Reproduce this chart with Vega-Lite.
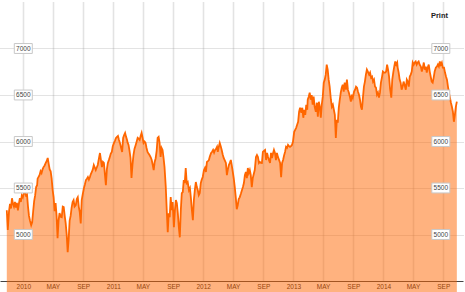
{
  "$schema": "https://vega.github.io/schema/vega-lite/v6.json",
  "width": 463,
  "height": 279,
  "autosize": {"type": "none"},
  "padding": {"top": 2, "left": 0, "right": 2, "bottom": 11},
  "background": "white",
  "title": {"text": "Print", "anchor": "end", "offset": -17, "dx": -15, "fontSize": 7.5, "fontWeight": "bold", "color": "#222", "font": "Liberation Sans"},
  "config": {
    "view": {"stroke": null},
    "font": "Liberation Sans",
    "axis": {"title": null}
  },
  "datasets": {
    "ftse": [
      {"d":"2009-10-26","v":5260},{"d":"2009-10-30","v":5050},
      {"d":"2009-11-04","v":5250},{"d":"2009-11-08","v":5330},{"d":"2009-11-12","v":5280},{"d":"2009-11-16","v":5390},{"d":"2009-11-20","v":5330},{"d":"2009-11-24","v":5300},{"d":"2009-11-28","v":5350},
      {"d":"2009-12-02","v":5290},{"d":"2009-12-06","v":5340},{"d":"2009-12-10","v":5260},{"d":"2009-12-14","v":5330},{"d":"2009-12-18","v":5390},{"d":"2009-12-22","v":5350},{"d":"2009-12-26","v":5420},{"d":"2009-12-30","v":5400},
      {"d":"2010-01-04","v":5450},{"d":"2010-01-08","v":5460},{"d":"2010-01-12","v":5420},{"d":"2010-01-16","v":5430},{"d":"2010-01-20","v":5300},{"d":"2010-01-24","v":5200},{"d":"2010-01-28","v":5150},
      {"d":"2010-02-02","v":5100},{"d":"2010-02-06","v":5130},{"d":"2010-02-10","v":5250},{"d":"2010-02-14","v":5360},{"d":"2010-02-18","v":5420},{"d":"2010-02-22","v":5510},{"d":"2010-02-26","v":5530},{"d":"2010-02-28","v":5600},
      {"d":"2010-03-04","v":5620},{"d":"2010-03-08","v":5640},{"d":"2010-03-12","v":5680},{"d":"2010-03-16","v":5660},{"d":"2010-03-20","v":5700},{"d":"2010-03-24","v":5725},{"d":"2010-03-28","v":5740},
      {"d":"2010-04-02","v":5770},{"d":"2010-04-06","v":5790},{"d":"2010-04-10","v":5823},{"d":"2010-04-14","v":5760},{"d":"2010-04-18","v":5700},{"d":"2010-04-22","v":5680},{"d":"2010-04-26","v":5600},{"d":"2010-04-30","v":5480},
      {"d":"2010-05-04","v":5400},{"d":"2010-05-08","v":5250},{"d":"2010-05-12","v":5337},{"d":"2010-05-16","v":5200},{"d":"2010-05-20","v":4960},{"d":"2010-05-24","v":5150},{"d":"2010-05-28","v":5230},
      {"d":"2010-06-02","v":5190},{"d":"2010-06-06","v":5186},{"d":"2010-06-10","v":5300},{"d":"2010-06-14","v":5294},{"d":"2010-06-18","v":5200},{"d":"2010-06-22","v":5120},{"d":"2010-06-26","v":5000},{"d":"2010-06-30","v":4810},
      {"d":"2010-07-04","v":4950},{"d":"2010-07-08","v":5150},{"d":"2010-07-12","v":5200},{"d":"2010-07-16","v":5290},{"d":"2010-07-20","v":5350},{"d":"2010-07-24","v":5370},{"d":"2010-07-28","v":5300},
      {"d":"2010-08-02","v":5315},{"d":"2010-08-06","v":5380},{"d":"2010-08-10","v":5400},{"d":"2010-08-14","v":5300},{"d":"2010-08-18","v":5240},{"d":"2010-08-22","v":5120},{"d":"2010-08-26","v":5370},{"d":"2010-08-30","v":5430},
      {"d":"2010-09-04","v":5500},{"d":"2010-09-08","v":5540},{"d":"2010-09-12","v":5585},{"d":"2010-09-16","v":5600},{"d":"2010-09-20","v":5617},{"d":"2010-09-24","v":5590},{"d":"2010-09-28","v":5617},
      {"d":"2010-10-02","v":5650},{"d":"2010-10-06","v":5672},{"d":"2010-10-10","v":5700},{"d":"2010-10-14","v":5747},{"d":"2010-10-18","v":5720},{"d":"2010-10-22","v":5693},{"d":"2010-10-26","v":5720},{"d":"2010-10-30","v":5747},
      {"d":"2010-11-04","v":5820},{"d":"2010-11-08","v":5876},{"d":"2010-11-12","v":5800},{"d":"2010-11-16","v":5725},{"d":"2010-11-20","v":5780},{"d":"2010-11-24","v":5769},{"d":"2010-11-28","v":5650},
      {"d":"2010-12-02","v":5531},{"d":"2010-12-06","v":5700},{"d":"2010-12-10","v":5769},{"d":"2010-12-14","v":5800},{"d":"2010-12-18","v":5834},{"d":"2010-12-22","v":5870},{"d":"2010-12-26","v":5888},{"d":"2010-12-30","v":5950},
      {"d":"2011-01-04","v":5985},{"d":"2011-01-08","v":6010},{"d":"2011-01-12","v":6039},{"d":"2011-01-16","v":6050},{"d":"2011-01-20","v":6060},{"d":"2011-01-24","v":6020},{"d":"2011-01-28","v":5985},
      {"d":"2011-02-02","v":5930},{"d":"2011-02-06","v":5888},{"d":"2011-02-10","v":6039},{"d":"2011-02-14","v":6070},{"d":"2011-02-18","v":6093},{"d":"2011-02-22","v":6050},{"d":"2011-02-26","v":6017},{"d":"2011-02-28","v":5990},
      {"d":"2011-03-04","v":5963},{"d":"2011-03-08","v":5900},{"d":"2011-03-12","v":5823},{"d":"2011-03-16","v":5607},{"d":"2011-03-20","v":5750},{"d":"2011-03-24","v":5855},{"d":"2011-03-28","v":5920},
      {"d":"2011-04-02","v":5963},{"d":"2011-04-06","v":6000},{"d":"2011-04-10","v":6039},{"d":"2011-04-14","v":6030},{"d":"2011-04-18","v":6017},{"d":"2011-04-22","v":6060},{"d":"2011-04-26","v":6093},{"d":"2011-04-30","v":6040},
      {"d":"2011-05-04","v":5985},{"d":"2011-05-08","v":6000},{"d":"2011-05-12","v":5985},{"d":"2011-05-16","v":5930},{"d":"2011-05-20","v":5888},{"d":"2011-05-24","v":5870},{"d":"2011-05-28","v":5855},
      {"d":"2011-06-02","v":5830},{"d":"2011-06-06","v":5801},{"d":"2011-06-10","v":5750},{"d":"2011-06-14","v":5693},{"d":"2011-06-18","v":5780},{"d":"2011-06-22","v":5820},{"d":"2011-06-26","v":5900},{"d":"2011-06-30","v":6039},
      {"d":"2011-07-04","v":6050},{"d":"2011-07-08","v":5985},{"d":"2011-07-12","v":5834},{"d":"2011-07-16","v":5931},{"d":"2011-07-20","v":5909},{"d":"2011-07-24","v":5823},{"d":"2011-07-28","v":5725},
      {"d":"2011-08-02","v":5510},{"d":"2011-08-06","v":5261},{"d":"2011-08-10","v":5024},{"d":"2011-08-14","v":5229},{"d":"2011-08-18","v":5186},{"d":"2011-08-22","v":5402},{"d":"2011-08-26","v":5261},{"d":"2011-08-30","v":5348},
      {"d":"2011-09-04","v":5078},{"d":"2011-09-08","v":5261},{"d":"2011-09-12","v":5370},{"d":"2011-09-16","v":5337},{"d":"2011-09-20","v":5229},{"d":"2011-09-24","v":5078},{"d":"2011-09-28","v":4970},
      {"d":"2011-10-02","v":5261},{"d":"2011-10-06","v":5445},{"d":"2011-10-10","v":5456},{"d":"2011-10-14","v":5585},{"d":"2011-10-18","v":5553},{"d":"2011-10-22","v":5715},{"d":"2011-10-26","v":5553},{"d":"2011-10-30","v":5564},
      {"d":"2011-11-04","v":5477},{"d":"2011-11-08","v":5499},{"d":"2011-11-12","v":5391},{"d":"2011-11-16","v":5261},{"d":"2011-11-20","v":5153},{"d":"2011-11-24","v":5370},{"d":"2011-11-28","v":5480},
      {"d":"2011-12-02","v":5564},{"d":"2011-12-06","v":5510},{"d":"2011-12-10","v":5477},{"d":"2011-12-14","v":5423},{"d":"2011-12-18","v":5445},{"d":"2011-12-22","v":5553},{"d":"2011-12-26","v":5590},{"d":"2011-12-30","v":5618},
      {"d":"2012-01-04","v":5693},{"d":"2012-01-08","v":5715},{"d":"2012-01-12","v":5672},{"d":"2012-01-16","v":5780},{"d":"2012-01-20","v":5790},{"d":"2012-01-24","v":5801},{"d":"2012-01-28","v":5840},
      {"d":"2012-02-02","v":5877},{"d":"2012-02-06","v":5890},{"d":"2012-02-10","v":5909},{"d":"2012-02-14","v":5880},{"d":"2012-02-18","v":5909},{"d":"2012-02-22","v":5920},{"d":"2012-02-26","v":5942},{"d":"2012-02-29","v":5888},
      {"d":"2012-03-04","v":5940},{"d":"2012-03-08","v":5985},{"d":"2012-03-12","v":5950},{"d":"2012-03-16","v":5909},{"d":"2012-03-20","v":5860},{"d":"2012-03-24","v":5823},{"d":"2012-03-28","v":5800},
      {"d":"2012-04-02","v":5769},{"d":"2012-04-06","v":5639},{"d":"2012-04-10","v":5700},{"d":"2012-04-14","v":5747},{"d":"2012-04-18","v":5770},{"d":"2012-04-22","v":5801},{"d":"2012-04-26","v":5740},{"d":"2012-04-30","v":5672},
      {"d":"2012-05-04","v":5600},{"d":"2012-05-08","v":5510},{"d":"2012-05-12","v":5402},{"d":"2012-05-16","v":5272},{"d":"2012-05-20","v":5315},{"d":"2012-05-24","v":5380},{"d":"2012-05-28","v":5400},
      {"d":"2012-06-02","v":5440},{"d":"2012-06-06","v":5477},{"d":"2012-06-10","v":5510},{"d":"2012-06-14","v":5553},{"d":"2012-06-18","v":5639},{"d":"2012-06-22","v":5672},{"d":"2012-06-26","v":5607},{"d":"2012-06-30","v":5715},
      {"d":"2012-07-04","v":5661},{"d":"2012-07-08","v":5693},{"d":"2012-07-12","v":5639},{"d":"2012-07-16","v":5510},{"d":"2012-07-20","v":5607},{"d":"2012-07-24","v":5650},{"d":"2012-07-28","v":5693},
      {"d":"2012-08-02","v":5834},{"d":"2012-08-06","v":5855},{"d":"2012-08-10","v":5834},{"d":"2012-08-14","v":5769},{"d":"2012-08-18","v":5780},{"d":"2012-08-22","v":5770},{"d":"2012-08-26","v":5769},{"d":"2012-08-30","v":5888},
      {"d":"2012-09-04","v":5900},{"d":"2012-09-08","v":5909},{"d":"2012-09-12","v":5801},{"d":"2012-09-16","v":5877},{"d":"2012-09-20","v":5834},{"d":"2012-09-24","v":5800},{"d":"2012-09-28","v":5769},
      {"d":"2012-10-02","v":5877},{"d":"2012-10-06","v":5823},{"d":"2012-10-10","v":5870},{"d":"2012-10-14","v":5909},{"d":"2012-10-18","v":5877},{"d":"2012-10-22","v":5801},{"d":"2012-10-26","v":5877},{"d":"2012-10-30","v":5834},
      {"d":"2012-11-04","v":5800},{"d":"2012-11-08","v":5769},{"d":"2012-11-12","v":5617},{"d":"2012-11-16","v":5769},{"d":"2012-11-20","v":5801},{"d":"2012-11-24","v":5850},{"d":"2012-11-28","v":5888},
      {"d":"2012-12-02","v":5942},{"d":"2012-12-06","v":5931},{"d":"2012-12-10","v":5963},{"d":"2012-12-14","v":5950},{"d":"2012-12-18","v":5942},{"d":"2012-12-22","v":5950},{"d":"2012-12-26","v":5963},{"d":"2012-12-30","v":5996},
      {"d":"2013-01-04","v":6104},{"d":"2013-01-08","v":6125},{"d":"2013-01-12","v":6147},{"d":"2013-01-16","v":6180},{"d":"2013-01-20","v":6212},{"d":"2013-01-24","v":6320},{"d":"2013-01-28","v":6363},
      {"d":"2013-02-02","v":6309},{"d":"2013-02-06","v":6363},{"d":"2013-02-10","v":6255},{"d":"2013-02-14","v":6341},{"d":"2013-02-18","v":6287},{"d":"2013-02-22","v":6395},{"d":"2013-02-26","v":6341},{"d":"2013-02-28","v":6449},
      {"d":"2013-03-04","v":6482},{"d":"2013-03-08","v":6525},{"d":"2013-03-12","v":6449},{"d":"2013-03-16","v":6500},{"d":"2013-03-20","v":6395},{"d":"2013-03-24","v":6482},{"d":"2013-03-28","v":6374},
      {"d":"2013-04-02","v":6320},{"d":"2013-04-06","v":6417},{"d":"2013-04-10","v":6266},{"d":"2013-04-14","v":6428},{"d":"2013-04-18","v":6374},{"d":"2013-04-22","v":6255},{"d":"2013-04-26","v":6395},{"d":"2013-04-30","v":6482},
      {"d":"2013-05-04","v":6633},{"d":"2013-05-08","v":6665},{"d":"2013-05-12","v":6719},{"d":"2013-05-16","v":6827},{"d":"2013-05-20","v":6773},{"d":"2013-05-24","v":6665},{"d":"2013-05-28","v":6590},
      {"d":"2013-06-02","v":6449},{"d":"2013-06-06","v":6374},{"d":"2013-06-10","v":6395},{"d":"2013-06-14","v":6341},{"d":"2013-06-18","v":6287},{"d":"2013-06-22","v":6039},{"d":"2013-06-26","v":6233},{"d":"2013-06-30","v":6201},
      {"d":"2013-07-04","v":6363},{"d":"2013-07-08","v":6449},{"d":"2013-07-12","v":6525},{"d":"2013-07-16","v":6579},{"d":"2013-07-20","v":6611},{"d":"2013-07-24","v":6536},{"d":"2013-07-28","v":6633},
      {"d":"2013-08-02","v":6557},{"d":"2013-08-06","v":6665},{"d":"2013-08-10","v":6557},{"d":"2013-08-14","v":6525},{"d":"2013-08-18","v":6482},{"d":"2013-08-22","v":6428},{"d":"2013-08-26","v":6503},{"d":"2013-08-30","v":6471},
      {"d":"2013-09-04","v":6536},{"d":"2013-09-08","v":6557},{"d":"2013-09-12","v":6590},{"d":"2013-09-16","v":6579},{"d":"2013-09-20","v":6536},{"d":"2013-09-24","v":6503},{"d":"2013-09-28","v":6449},
      {"d":"2013-10-02","v":6374},{"d":"2013-10-06","v":6341},{"d":"2013-10-10","v":6471},{"d":"2013-10-14","v":6590},{"d":"2013-10-18","v":6644},{"d":"2013-10-22","v":6719},{"d":"2013-10-26","v":6773},{"d":"2013-10-30","v":6752},
      {"d":"2013-11-04","v":6719},{"d":"2013-11-08","v":6741},{"d":"2013-11-12","v":6687},{"d":"2013-11-16","v":6698},{"d":"2013-11-20","v":6644},{"d":"2013-11-24","v":6665},{"d":"2013-11-28","v":6590},
      {"d":"2013-12-02","v":6579},{"d":"2013-12-06","v":6503},{"d":"2013-12-10","v":6525},{"d":"2013-12-14","v":6471},{"d":"2013-12-18","v":6525},{"d":"2013-12-22","v":6633},{"d":"2013-12-26","v":6687},{"d":"2013-12-30","v":6752},
      {"d":"2014-01-04","v":6741},{"d":"2014-01-08","v":6741},{"d":"2014-01-12","v":6752},{"d":"2014-01-16","v":6827},{"d":"2014-01-20","v":6773},{"d":"2014-01-24","v":6698},{"d":"2014-01-28","v":6570},
      {"d":"2014-02-02","v":6471},{"d":"2014-02-06","v":6665},{"d":"2014-02-10","v":6741},{"d":"2014-02-14","v":6806},{"d":"2014-02-18","v":6860},{"d":"2014-02-22","v":6827},{"d":"2014-02-26","v":6849},{"d":"2014-02-28","v":6795},
      {"d":"2014-03-04","v":6741},{"d":"2014-03-08","v":6665},{"d":"2014-03-12","v":6633},{"d":"2014-03-16","v":6557},{"d":"2014-03-20","v":6590},{"d":"2014-03-24","v":6644},{"d":"2014-03-28","v":6611},
      {"d":"2014-04-02","v":6557},{"d":"2014-04-06","v":6665},{"d":"2014-04-10","v":6644},{"d":"2014-04-14","v":6590},{"d":"2014-04-18","v":6698},{"d":"2014-04-22","v":6719},{"d":"2014-04-26","v":6752},{"d":"2014-04-30","v":6849},
      {"d":"2014-05-04","v":6827},{"d":"2014-05-08","v":6849},{"d":"2014-05-12","v":6860},{"d":"2014-05-16","v":6827},{"d":"2014-05-20","v":6849},{"d":"2014-05-24","v":6860},{"d":"2014-05-28","v":6827},
      {"d":"2014-06-02","v":6806},{"d":"2014-06-06","v":6752},{"d":"2014-06-10","v":6795},{"d":"2014-06-14","v":6849},{"d":"2014-06-18","v":6773},{"d":"2014-06-22","v":6806},{"d":"2014-06-26","v":6741},{"d":"2014-06-30","v":6795},
      {"d":"2014-07-04","v":6827},{"d":"2014-07-08","v":6752},{"d":"2014-07-12","v":6698},{"d":"2014-07-16","v":6644},{"d":"2014-07-20","v":6633},{"d":"2014-07-24","v":6687},{"d":"2014-07-28","v":6752},
      {"d":"2014-08-02","v":6795},{"d":"2014-08-06","v":6806},{"d":"2014-08-10","v":6827},{"d":"2014-08-14","v":6806},{"d":"2014-08-18","v":6860},{"d":"2014-08-22","v":6827},{"d":"2014-08-26","v":6849},{"d":"2014-08-30","v":6795},
      {"d":"2014-09-04","v":6795},{"d":"2014-09-08","v":6741},{"d":"2014-09-12","v":6698},{"d":"2014-09-16","v":6665},{"d":"2014-09-20","v":6590},{"d":"2014-09-24","v":6525},{"d":"2014-09-28","v":6471},
      {"d":"2014-10-02","v":6417},{"d":"2014-10-06","v":6374},{"d":"2014-10-10","v":6320},{"d":"2014-10-14","v":6212},{"d":"2014-10-18","v":6287},{"d":"2014-10-22","v":6374},{"d":"2014-10-26","v":6428}
    ],
    "levels": [{"lv":5000},{"lv":5500},{"lv":6000},{"lv":6500},{"lv":7000}]
  },
  "layer": [
    {
      "data": {"name": "ftse"},
      "mark": {"type": "area", "color": "#FF6600", "fillOpacity": 0.5, "line": {"color": "#FF6600", "strokeWidth": 1.8}},
      "encoding": {
        "x": {
          "field": "d", "type": "temporal",
          "scale": {"type": "utc", "domain": ["2009-09-28T10:00:00Z", "2014-11-20T00:00:00Z"]},
          "axis": {
            "orient": "bottom",
            "tickCount": {"interval": "month", "step": 4},
            "labelExpr": "utcFormat(datum.value, '%m') == '01' ? utcFormat(datum.value, '%Y') : upper(utcFormat(datum.value, '%b'))",
            "labelFontSize": 6.5, "labelColor": "#222", "labelPadding": 2, "labelFlush": false, "labelOverlap": false,
            "ticks": false, "domainColor": "#444", "domainWidth": 1,
            "grid": true, "gridColor": "#999", "gridOpacity": 0.55, "gridDash": [1, 1], "gridWidth": 1.5
          }
        },
        "y": {
          "field": "v", "type": "quantitative",
          "scale": {"domain": [4500, 7500], "nice": false, "zero": false},
          "axis": {
            "values": [5000, 5500, 6000, 6500, 7000],
            "labels": false, "ticks": false, "domain": false,
            "grid": true, "gridColor": "#999", "gridOpacity": 0.55, "gridDash": [1, 1], "gridWidth": 1
          }
        }
      }
    },
    {
      "mark": {"type": "rule", "color": "#333", "strokeWidth": 2},
      "encoding": {"y": {"datum": 7500}}
    },
    {
      "data": {"name": "levels"},
      "mark": {"type": "point", "shape": "M-1,-0.55L1,-0.55L1,0.55L-1,0.55Z", "size": 324, "filled": true, "fill": "white", "stroke": "#c8c8c8", "strokeWidth": 1, "opacity": 1},
      "encoding": {
        "x": {"datum": {"year": 2010, "month": 1, "date": 1, "utc": true}, "type": "temporal"},
        "y": {"field": "lv", "type": "quantitative"}
      }
    },
    {
      "data": {"name": "levels"},
      "mark": {"type": "point", "shape": "M-1,-0.55L1,-0.55L1,0.55L-1,0.55Z", "size": 324, "filled": true, "fill": "white", "stroke": "#c8c8c8", "strokeWidth": 1, "opacity": 1},
      "encoding": {
        "x": {"datum": {"year": 2014, "month": 8, "date": 22, "utc": true}, "type": "temporal"},
        "y": {"field": "lv", "type": "quantitative"}
      }
    },
    {
      "data": {"name": "levels"},
      "mark": {"type": "text", "fontSize": 6.5, "color": "#444", "align": "center", "baseline": "middle"},
      "encoding": {
        "x": {"datum": {"year": 2010, "month": 1, "date": 1, "utc": true}, "type": "temporal"},
        "y": {"field": "lv", "type": "quantitative"},
        "text": {"field": "lv", "type": "quantitative", "format": "d"}
      }
    },
    {
      "data": {"name": "levels"},
      "mark": {"type": "text", "fontSize": 6.5, "color": "#444", "align": "center", "baseline": "middle"},
      "encoding": {
        "x": {"datum": {"year": 2014, "month": 8, "date": 22, "utc": true}, "type": "temporal"},
        "y": {"field": "lv", "type": "quantitative"},
        "text": {"field": "lv", "type": "quantitative", "format": "d"}
      }
    }
  ]
}
